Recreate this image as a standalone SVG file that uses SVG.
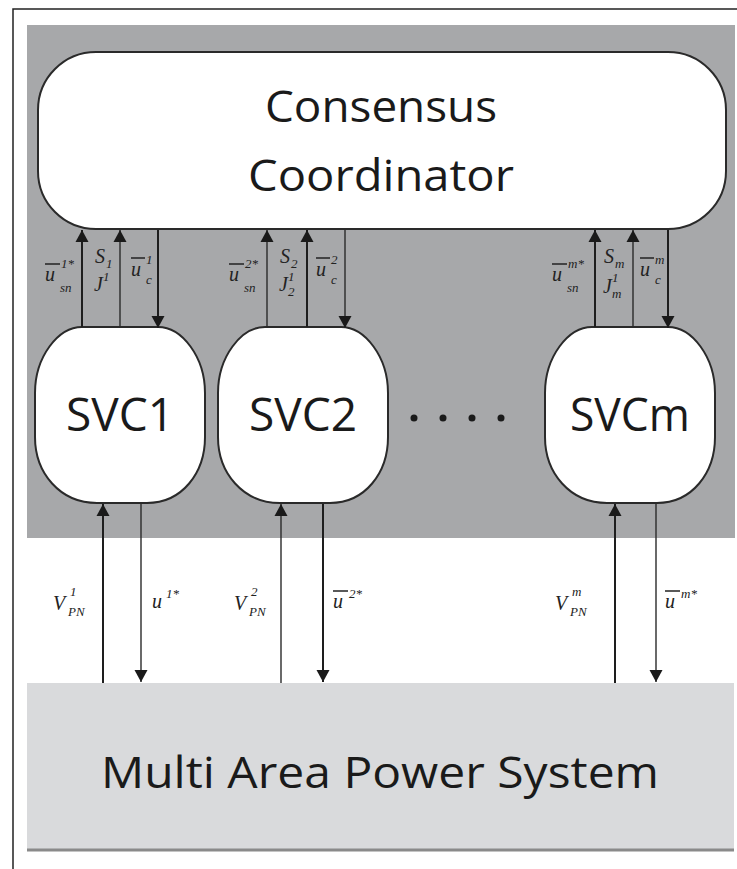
<svg xmlns="http://www.w3.org/2000/svg" width="737" height="869" viewBox="0 0 737 869">
<style>
.node{fill:#fff;stroke:#2a2a2a;stroke-width:2}
.big{font-family:"Open Sans","Noto Sans",sans-serif;font-size:44px;fill:#1a1a1a;text-anchor:middle}
.svc{font-family:"Open Sans","Noto Sans",sans-serif;font-size:46px;fill:#1a1a1a;text-anchor:middle}
.m{font-family:"Liberation Serif",serif;font-style:italic;font-size:20px;fill:#222}
.s{font-family:"Liberation Serif",serif;font-style:italic;font-size:13px;fill:#222}
.ar{stroke:#1e1e1e;stroke-width:2;fill:none}
.at{stroke:#2a2a2a;stroke-width:1.4;fill:none}
.ov{stroke:#222;stroke-width:1.5}
</style>
<defs>
<marker id="ah" viewBox="0 0 12 18" refX="12" refY="9" markerWidth="12" markerHeight="18" markerUnits="userSpaceOnUse" orient="auto">
<path d="M0,2.5 L12,9 L0,15.5 Z" fill="#1a1a1a"/>
</marker>
<path id="svcshape" d="M-38,-88 H38 C62,-88 85,-58 85,-22 V22 C85,58 62,88 27,88 H-23 C-60,88 -85,58 -85,22 V-22 C-85,-58 -62,-88 -38,-88 Z"/>
</defs>
<rect width="737" height="869" fill="#fff"/>
<path d="M13,869 V9 H737" fill="none" stroke="#222" stroke-width="1.5"/>
<rect x="27" y="25" width="708" height="513" fill="#a7a8aa"/>

<g id="coordinator">
<rect class="node" x="38" y="52" width="688" height="177" rx="58" ry="58"/>
<text class="big" x="381" y="122" textLength="232" lengthAdjust="spacingAndGlyphs">Consensus</text>
<text class="big" x="381" y="191" textLength="266" lengthAdjust="spacingAndGlyphs">Coordinator</text>
</g>

<g id="svc1">
<use href="#svcshape" x="120" y="415" class="node"/>
<text class="svc" x="120" y="431" textLength="108" lengthAdjust="spacingAndGlyphs">SVC1</text>
</g>
<g id="svc2">
<use href="#svcshape" x="303" y="415" class="node"/>
<text class="svc" x="303" y="431" textLength="108" lengthAdjust="spacingAndGlyphs">SVC2</text>
</g>
<g id="svcm">
<use href="#svcshape" x="630" y="415" class="node"/>
<text class="svc" x="630" y="431" textLength="120" lengthAdjust="spacingAndGlyphs">SVCm</text>
</g>
<g id="dots" fill="#1a1a1a">
<circle cx="414" cy="418" r="3.5"/><circle cx="443" cy="418" r="3.5"/><circle cx="472" cy="418" r="3.5"/><circle cx="501" cy="418" r="3.5"/>
</g>

<g id="power-system">
<rect x="27" y="683" width="707" height="167" fill="#d9dadc"/>
<line x1="27" y1="850" x2="734" y2="850" stroke="#8a8a8a" stroke-width="3"/>
<text class="big" x="380" y="788" textLength="558" lengthAdjust="spacingAndGlyphs">Multi Area Power System</text>
</g>

<g id="connectors">
<line class="ar" x1="82" y1="327" x2="82" y2="230" marker-end="url(#ah)"/>
<line class="at" x1="120" y1="327" x2="120" y2="230" marker-end="url(#ah)"/>
<line class="ar" x1="158" y1="230" x2="158" y2="328" marker-end="url(#ah)"/>
<line class="at" x1="267" y1="327" x2="267" y2="230" marker-end="url(#ah)"/>
<line class="ar" x1="307" y1="327" x2="307" y2="230" marker-end="url(#ah)"/>
<line class="at" x1="345" y1="230" x2="345" y2="328" marker-end="url(#ah)"/>
<line class="ar" x1="595" y1="327" x2="595" y2="230" marker-end="url(#ah)"/>
<line class="at" x1="633" y1="327" x2="633" y2="230" marker-end="url(#ah)"/>
<line class="ar" x1="668" y1="230" x2="668" y2="328" marker-end="url(#ah)"/>

<line class="ar" x1="103" y1="683" x2="103" y2="504" marker-end="url(#ah)"/>
<line class="at" x1="141" y1="504" x2="141" y2="682" marker-end="url(#ah)"/>
<line class="at" x1="281" y1="683" x2="281" y2="504" marker-end="url(#ah)"/>
<line class="ar" x1="323" y1="504" x2="323" y2="682" marker-end="url(#ah)"/>
<line class="ar" x1="615" y1="683" x2="615" y2="504" marker-end="url(#ah)"/>
<line class="at" x1="656" y1="504" x2="656" y2="682" marker-end="url(#ah)"/>
</g>

<g id="labels">
<!-- SVC1 top -->
<line class="ov" x1="45" y1="264" x2="60" y2="264"/>
<text class="m" x="45" y="281">u</text><text class="s" x="61" y="268">1*</text><text class="s" x="60" y="292">sn</text>
<text class="m" x="95" y="263">S</text><text class="s" x="106" y="268">1</text>
<text class="m" x="94" y="291">J</text><text class="s" x="103" y="281">1</text>
<line class="ov" x1="131" y1="258" x2="145" y2="258"/>
<text class="m" x="131" y="276">u</text><text class="s" x="146" y="264">1</text><text class="s" x="146" y="284">c</text>
<!-- SVC2 top -->
<line class="ov" x1="229" y1="264" x2="244" y2="264"/>
<text class="m" x="229" y="281">u</text><text class="s" x="245" y="268">2*</text><text class="s" x="244" y="292">sn</text>
<text class="m" x="280" y="263">S</text><text class="s" x="291" y="268">2</text>
<text class="m" x="279" y="291">J</text><text class="s" x="288" y="281">1</text><text class="s" x="288" y="296">2</text>
<line class="ov" x1="316" y1="258" x2="330" y2="258"/>
<text class="m" x="316" y="276">u</text><text class="s" x="331" y="264">2</text><text class="s" x="331" y="284">c</text>
<!-- SVCm top -->
<line class="ov" x1="552" y1="264" x2="567" y2="264"/>
<text class="m" x="552" y="281">u</text><text class="s" x="568" y="268">m*</text><text class="s" x="567" y="292">sn</text>
<text class="m" x="604" y="263">S</text><text class="s" x="615" y="268">m</text>
<text class="m" x="603" y="293">J</text><text class="s" x="612" y="282">1</text><text class="s" x="612" y="298">m</text>
<line class="ov" x1="640" y1="258" x2="654" y2="258"/>
<text class="m" x="640" y="276">u</text><text class="s" x="655" y="264">m</text><text class="s" x="655" y="284">c</text>
<!-- bottom -->
<text class="m" x="53" y="610">V</text><text class="s" x="70" y="596">1</text><text class="s" x="68" y="616">PN</text>
<text class="m" x="152" y="608">u</text><text class="s" x="166" y="598">1*</text>
<text class="m" x="234" y="610">V</text><text class="s" x="251" y="596">2</text><text class="s" x="249" y="616">PN</text>
<line class="ov" x1="333" y1="591" x2="348" y2="591"/>
<text class="m" x="333" y="608">u</text><text class="s" x="349" y="598">2*</text>
<text class="m" x="555" y="610">V</text><text class="s" x="572" y="596">m</text><text class="s" x="570" y="616">PN</text>
<line class="ov" x1="665" y1="591" x2="680" y2="591"/>
<text class="m" x="665" y="608">u</text><text class="s" x="681" y="598">m*</text>
</g>
</svg>
